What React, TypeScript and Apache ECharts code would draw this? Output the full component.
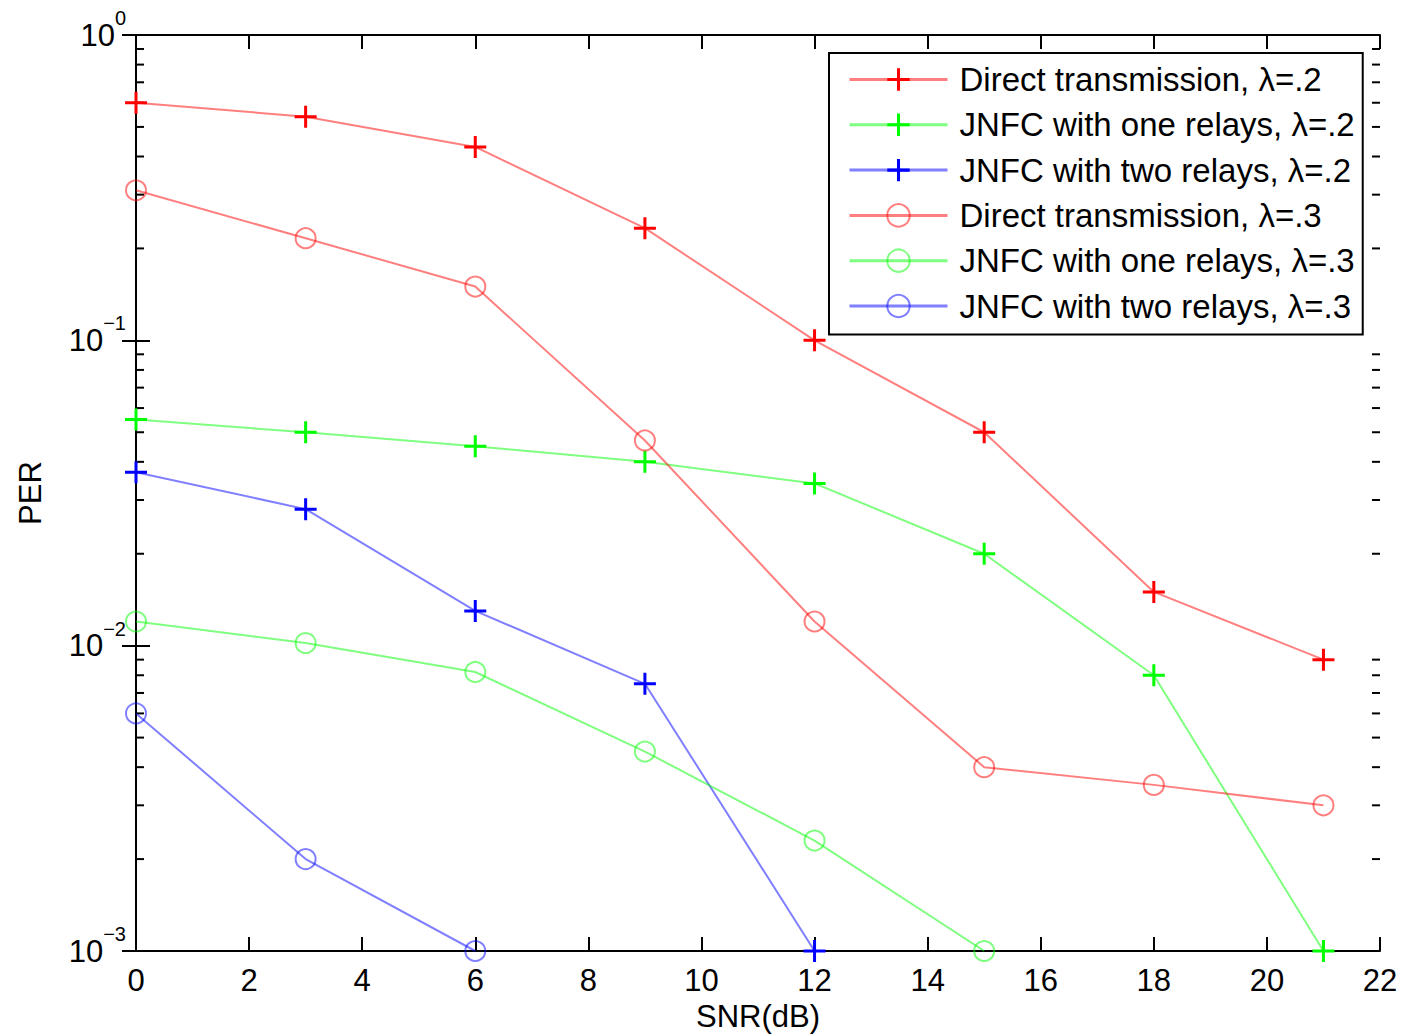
import React, { useEffect, useRef } from "react";
import * as echarts from "echarts";

const snr = [0, 3, 6, 9, 12, 15, 18, 21];
const directL2 = [0.6, 0.54, 0.43, 0.233, 0.1, 0.05, 0.015, 0.009];
const oneRelayL2 = [0.055, 0.05, 0.045, 0.04, 0.034, 0.02, 0.008, 0.001];
const twoRelayL2 = [0.037, 0.028, 0.013, 0.0075, 0.001];
const directL3 = [0.31, 0.216, 0.15, 0.047, 0.012, 0.004, 0.0035, 0.003];
const oneRelayL3 = [0.012, 0.0102, 0.0082, 0.0045, 0.0023, 0.001];
const twoRelayL3 = [0.006, 0.002, 0.001];

const seriesNames = [
  "Direct transmission, λ=.2",
  "JNFC with one relays, λ=.2",
  "JNFC with two relays, λ=.2",
  "Direct transmission, λ=.3",
  "JNFC with one relays, λ=.3",
  "JNFC with two relays, λ=.3",
];

const minorTicks = [
  0.002, 0.003, 0.004, 0.005, 0.006, 0.007, 0.008, 0.009,
  0.02, 0.03, 0.04, 0.05, 0.06, 0.07, 0.08, 0.09,
  0.2, 0.3, 0.4, 0.5, 0.6, 0.7, 0.8, 0.9,
];

const FONT = "'Liberation Sans', Arial, Helvetica, sans-serif";
const PLUS = "path://M9.5,0H12.5V9.5H22V12.5H12.5V22H9.5V12.5H0V9.5H9.5Z";

const RED = "#ff0000";
const GREEN = "#00ff00";
const BLUE = "#0000ff";
const RED_L = "rgba(255,0,0,0.5)";
const GREEN_L = "rgba(0,255,0,0.5)";
const BLUE_L = "rgba(0,0,255,0.5)";

function pairs(vals: number[]) {
  return vals.map((v, i) => [snr[i], v]);
}

function plusSeries(name: string, vals: number[], color: string, light: string) {
  return {
    name,
    type: "line",
    data: pairs(vals),
    clip: false,
    symbol: PLUS,
    symbolSize: 22,
    itemStyle: { color },
    lineStyle: { color: light, width: 2 },
    color,
    z: 3,
  };
}

function circleSeries(name: string, vals: number[], color: string, light: string) {
  return {
    name,
    type: "line",
    data: pairs(vals),
    clip: false,
    symbol: "circle",
    symbolSize: 20,
    itemStyle: { color: "rgba(0,0,0,0)", borderColor: light, borderWidth: 2 },
    lineStyle: { color: light, width: 2 },
    color,
    z: 3,
  };
}

export default function App() {
  const ref = useRef<HTMLDivElement>(null);
  useEffect(() => {
    document.body.style.margin = "0";
    const chart = echarts.init(ref.current!, null, { renderer: "svg" });
    const tickStyle = { color: "#000", width: 2 };
    const option: any = {
      animation: false,
      backgroundColor: "#fff",
      textStyle: { fontFamily: FONT },
      grid: { left: 136, top: 35, width: 1244, height: 916, outerBoundsMode: "none", containLabel: false },
      legend: {
        data: seriesNames,
        orient: "vertical",
        left: 829,
        top: 53,
        backgroundColor: "#fff",
        borderColor: "#000",
        borderWidth: 2,
        borderRadius: 0,
        padding: [10, 8, 12, 19],
        itemGap: 12.3,
        itemWidth: 98,
        itemHeight: 28,
        selectedMode: false,
        lineStyle: { width: 3, opacity: 1 },
        textStyle: {
          fontFamily: FONT,
          fontSize: 33,
          lineHeight: 32,
          color: "#000",
          padding: [0, 0, 0, 7],
        },
        z: 10,
      },
      xAxis: [
        {
          type: "value",
          min: 0,
          max: 22,
          interval: 2,
          name: "SNR(dB)",
          nameLocation: "middle",
          nameGap: 50,
          nameTextStyle: { fontFamily: FONT, fontSize: 31, color: "#000" },
          axisLine: { lineStyle: tickStyle },
          axisTick: { inside: true, length: 14, lineStyle: tickStyle },
          axisLabel: { fontFamily: FONT, fontSize: 31, color: "#000", margin: 14 },
          splitLine: { show: false },
        },
        {
          type: "value",
          position: "top",
          min: 0,
          max: 22,
          interval: 2,
          axisLine: { lineStyle: tickStyle },
          axisTick: { inside: true, length: 14, lineStyle: tickStyle },
          axisLabel: { show: false },
          splitLine: { show: false },
        },
      ],
      yAxis: [
        {
          type: "log",
          logBase: 10,
          min: 0.001,
          max: 1,
          name: "PER",
          nameLocation: "middle",
          nameGap: 90,
          nameRotate: 90,
          nameTextStyle: { fontFamily: FONT, fontSize: 31, color: "#000" },
          axisLine: { show: true, lineStyle: tickStyle },
          axisTick: { inside: true, length: 14, lineStyle: tickStyle },
          axisLabel: {
            margin: 10,
            formatter: (v: number) => {
              const e = Math.round(Math.log10(v));
              return `{b|10}{s|${e < 0 ? "\u2212" + -e : e}}`;
            },
            rich: {
              b: { fontFamily: FONT, fontSize: 31, lineHeight: 54, color: "#000", verticalAlign: "middle" },
              s: { fontFamily: FONT, fontSize: 20, lineHeight: 20, color: "#000", verticalAlign: "top" },
            },
          },
          splitLine: { show: false },
        },
        {
          type: "log",
          logBase: 10,
          min: 0.001,
          max: 1,
          position: "right",
          axisLine: { show: true, lineStyle: tickStyle },
          axisTick: { inside: true, length: 14, lineStyle: tickStyle },
          axisLabel: { show: false },
          splitLine: { show: false },
        },
      ],
      series: [
        {
          name: "minorTicks",
          type: "custom",
          silent: true,
          data: minorTicks.map((v) => [0, v]),
          renderItem: (params: any, api: any) => {
            const pt = api.coord([0, api.value(1)]);
            const cs = params.coordSys;
            const st = { stroke: "#000", lineWidth: 2 };
            return {
              type: "group",
              children: [
                { type: "line", shape: { x1: cs.x, y1: pt[1], x2: cs.x + 8, y2: pt[1] }, style: st },
                { type: "line", shape: { x1: cs.x + cs.width - 8, y1: pt[1], x2: cs.x + cs.width, y2: pt[1] }, style: st },
              ],
            };
          },
          z: 1,
        },
        plusSeries(seriesNames[0], directL2, RED, RED_L),
        plusSeries(seriesNames[1], oneRelayL2, GREEN, GREEN_L),
        plusSeries(seriesNames[2], twoRelayL2, BLUE, BLUE_L),
        circleSeries(seriesNames[3], directL3, RED, RED_L),
        circleSeries(seriesNames[4], oneRelayL3, GREEN, GREEN_L),
        circleSeries(seriesNames[5], twoRelayL3, BLUE, BLUE_L),
      ],
    };
    chart.setOption(option);
    return () => chart.dispose();
  }, []);
  return <div ref={ref} style={{ width: 1404, height: 1036 }} />;
}
